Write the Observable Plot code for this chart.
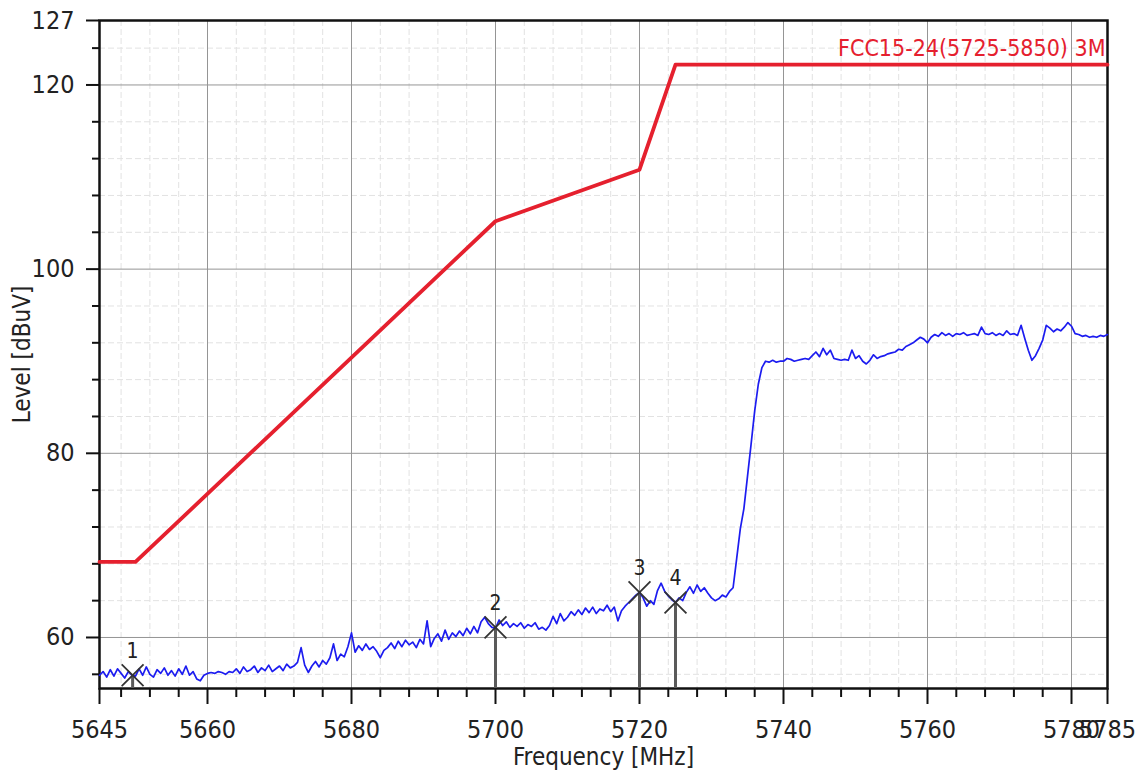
<!DOCTYPE html>
<html><head><meta charset="utf-8">
<script src="https://cdn.jsdelivr.net/npm/d3@7"></script>
<script src="https://cdn.jsdelivr.net/npm/@observablehq/plot@0.6"></script>
<style>body{margin:0;background:#fff}</style>
</head><body><div id="chart"></div>
<script>
// Sweep grid of the measured trace (MHz)
const sweepStart = 5645, sweepStep = 0.5;
// Measured level (dBuV), one value per sweep point, 5645 .. 5785 MHz
const traceLevel = [
  55.9, 56.3, 55.7, 56.5, 55.8, 56.6, 56.1, 55.6, 56.3, 55.9,
  55.8, 56.6, 55.9, 56.8, 56.0, 55.7, 56.5, 56.1, 56.7, 55.9,
  56.4, 55.8, 56.6, 56.0, 56.9, 55.9, 56.3, 55.5, 55.3, 55.9,
  56.1, 56.2, 56.1, 56.3, 56.2, 56.0, 56.3, 56.2, 56.6, 56.1,
  56.8, 56.3, 56.5, 56.9, 56.2, 56.7, 56.4, 57.0, 56.3, 56.6,
  56.9, 56.4, 57.1, 56.7, 56.9, 57.3, 58.9, 57.0, 56.2, 56.9,
  57.4, 56.8, 57.5, 57.1, 57.8, 59.3, 57.5, 58.2, 57.9, 59.0,
  60.5, 58.4, 59.1, 58.6, 59.3, 58.7, 59.0, 58.5, 57.8, 58.6,
  58.9, 59.4, 58.8, 59.6, 59.0, 59.7, 59.2, 59.5, 58.9, 59.8,
  59.3, 61.8, 59.0, 59.9, 60.4, 59.6, 60.8, 59.8, 60.5, 60.1,
  60.7, 60.2, 61.0, 60.4, 61.2, 60.5, 61.7, 62.2, 61.5, 61.1,
  61.0, 61.9, 61.3, 61.7, 61.1, 61.5, 61.2, 61.6, 61.0, 61.4,
  61.2, 61.6, 60.9, 61.1, 60.8, 61.3, 62.3, 61.5, 62.6, 61.8,
  62.2, 62.8, 62.4, 63.0, 62.5, 63.2, 62.7, 63.3, 62.6, 63.1,
  62.9, 63.5, 62.8, 63.3, 61.8, 62.9, 63.4, 63.8, 64.2, 64.6,
  64.9, 64.3, 63.4, 64.0, 63.6, 65.1, 65.9, 65.0, 64.5, 64.1,
  63.8, 64.3, 64.0, 64.9, 65.5, 64.8, 65.7, 65.0, 65.4, 64.8,
  64.3, 64.0, 64.2, 64.6, 64.4, 65.0, 65.4, 68.6, 71.8, 74.0,
  77.5, 81.0, 84.6, 87.5, 89.3, 90.0, 89.9, 90.1, 89.9, 90.0,
  90.0, 90.3, 90.2, 90.0, 90.1, 90.2, 90.3, 90.2, 90.6, 91.0,
  90.5, 91.4, 90.7, 91.2, 90.3, 90.2, 90.1, 90.2, 90.1, 91.2,
  90.3, 90.6, 90.0, 89.7, 90.1, 90.7, 90.3, 90.5, 90.6, 90.8,
  90.9, 91.0, 91.3, 91.2, 91.6, 91.8, 92.0, 92.3, 92.6, 92.4,
  92.0, 92.6, 92.9, 92.7, 93.1, 92.8, 93.0, 92.7, 93.0, 92.9,
  93.1, 92.8, 92.9, 93.0, 92.8, 93.7, 93.0, 92.9, 93.1, 92.8,
  93.0, 92.8, 93.3, 92.9, 93.0, 92.8, 93.9, 92.5, 91.2, 90.1,
  90.6, 91.4, 92.3, 93.9, 93.6, 93.2, 93.5, 93.3, 93.7, 94.2,
  93.8, 93.0, 92.9, 92.7, 92.8, 92.6, 92.7, 92.6, 92.8, 92.7,
  92.9
];
// Limit line
const limitName = "FCC15-24(5725-5850) 3M";
const limitFreq = [5645, 5650, 5700, 5720, 5725, 5785];
const limitLevel = [68.2, 68.2, 105.2, 110.8, 122.2, 122.2];
// Markers
const markerId = ["1", "2", "3", "4"];
const markerFreq = [5649.6, 5700, 5720, 5725];
const markerLevel = [55.9, 61.1, 64.9, 63.8];
// Axes
const xDomain = [5645, 5785];
const yDomain = [54.46, 127];
const xMajor = [5645, 5660, 5680, 5700, 5720, 5740, 5760, 5780, 5785];
const xMinor = [5648, 5652, 5656, 5664, 5668, 5672, 5676, 5684, 5688, 5692, 5696, 5704, 5708, 5712, 5716,
  5724, 5728, 5732, 5736, 5744, 5748, 5752, 5756, 5764, 5768, 5772, 5776];
const yMajor = [60, 80, 100, 120, 127];
const yMinor = [56, 64, 68, 72, 76, 84, 88, 92, 96, 104, 108, 112, 116, 124];
const xTitle = "Frequency [MHz]";
const yTitle = "Level [dBuV]";

const trace = traceLevel.map((v, i) => ({f: sweepStart + i * sweepStep, v}));
const limit = limitFreq.map((f, i) => ({f, v: limitLevel[i]}));
const markers = markerId.map((id, i) => ({id, f: markerFreq[i], v: markerLevel[i]}));

const FONT = '"Liberation Sans Narrow", "DejaVu Sans Condensed", "Liberation Sans", sans-serif';
const fmt = d => String(d);
const none = () => "";

const chart = Plot.plot({
  width: 1136, height: 776,
  marginLeft: 99, marginRight: 29, marginTop: 20, marginBottom: 88,
  style: {fontFamily: FONT, background: "#fff", color: "#222", overflow: "visible"},
  x: {domain: xDomain},
  y: {domain: yDomain},
  marks: [
    Plot.gridX(xMinor, {stroke: "#e2e2e2", strokeOpacity: 1, strokeDasharray: "6,3"}),
    Plot.gridY(yMinor, {stroke: "#e2e2e2", strokeOpacity: 1, strokeDasharray: "6,3"}),
    Plot.gridX(xMajor, {stroke: "#959595", strokeOpacity: 1}),
    Plot.gridY(yMajor, {stroke: "#959595", strokeOpacity: 1}),
    Plot.axisX(xMajor, {tickSize: 16, tickPadding: 16, tickFormat: fmt, fontSize: 25, stroke: "#111", strokeWidth: 2, fill: "#222", label: null}),
    Plot.axisX(xMinor, {tickSize: 9, tickFormat: none, stroke: "#111", strokeWidth: 2, label: null}),
    Plot.axisY(yMajor, {tickSize: 13, tickPadding: 12, tickFormat: fmt, fontSize: 25, stroke: "#111", strokeWidth: 2, fill: "#222", label: null}),
    Plot.axisY(yMinor, {tickSize: 7, tickFormat: none, stroke: "#111", strokeWidth: 2, label: null}),
    Plot.frame({stroke: "#111", strokeWidth: 2.5}),
    Plot.line(limit, {x: "f", y: "v", stroke: "#e5202e", strokeWidth: 3.8}),
    Plot.text(limit.slice(-1), {x: "f", y: "v", text: () => limitName, textAnchor: "end", dx: -2, dy: -16, fill: "#e5202e", fontSize: 23}),
    Plot.ruleX(markers, {x: "f", y1: yDomain[0], y2: "v", stroke: "#5a5a5a", strokeWidth: 3}),
    Plot.line(trace, {x: "f", y: "v", stroke: "#1c1cf0", strokeWidth: 1.7}),
    Plot.dot(markers, {x: "f", y: "v", symbol: "times", r: 10, stroke: "#333", strokeWidth: 1.8}),
    Plot.text(markers, {x: "f", y: "v", text: "id", dy: -24, fontSize: 21, fill: "#222"}),
    Plot.text([xTitle], {frameAnchor: "bottom", text: d => d, dy: 76, fontSize: 24, fill: "#222"}),
    Plot.text([yTitle], {frameAnchor: "left", text: d => d, textAnchor: "middle", dx: -77, rotate: -90, fontSize: 24, fill: "#222"})
  ]
});
document.getElementById("chart").appendChild(chart);
</script>
</body></html>
